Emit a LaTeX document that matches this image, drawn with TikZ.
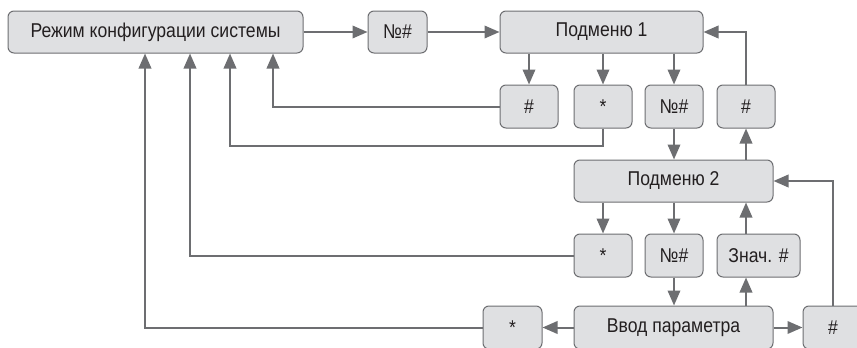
\documentclass[tikz,border=0pt]{standalone}
\usepackage{fontspec}
\setmainfont{Liberation Sans}[FakeStretch=0.88]
\usetikzlibrary{arrows.meta}
\definecolor{boxfill}{HTML}{DFE0E2}
\definecolor{boxline}{HTML}{6D6E71}
\definecolor{conn}{HTML}{6D6E71}
\definecolor{txt}{HTML}{231F20}
\begin{document}
\begin{tikzpicture}[x=1pt,y=-1pt,
  box/.style={draw=boxline, line width=1pt, fill=boxfill, rounded corners=6pt,
    minimum height=42pt, inner sep=0pt, text=txt, font=\fontsize{20}{24}\selectfont},
  arr/.style={draw=conn, line width=2pt, -{Triangle[length=15pt,width=12.5pt]}}]
\useasboundingbox (0,0) rectangle (857,348);
\clip (0,0) rectangle (857,348);
% row 1
\node[box, minimum width=295pt] (main) at (155.5,32) {Режим конфигурации системы};
\node[box, minimum width=59pt] (n1) at (397.5,32) {№\#};
\node[box, minimum width=203pt] (sub1) at (601.5,32) {Подменю 1};
% row 2
\node[box, minimum width=58pt, minimum height=43pt] (r2a) at (529,106.5) {\#};
\node[box, minimum width=58pt, minimum height=43pt] (r2b) at (603,106.5) {*};
\node[box, minimum width=58pt, minimum height=43pt] (r2c) at (674,106.5) {№\#};
\node[box, minimum width=58pt, minimum height=43pt] (r2d) at (746,106.5) {\#};
% Submenu 2
\node[box, minimum width=199pt] (sub2) at (673.5,181) {Подменю 2};
% row 3
\node[box, minimum width=58pt, minimum height=43pt] (r3a) at (603,255.5) {*};
\node[box, minimum width=58pt, minimum height=43pt] (r3b) at (674,255.5) {№\#};
\node[box, minimum width=83pt, minimum height=43pt] (r3c) at (758.5,255.5) {Знач. \#};
% row 4
\node[box, minimum width=199pt, minimum height=43pt] (inp) at (673.5,327.5) {Ввод параметра};
\node[box, minimum width=59pt, minimum height=43pt] (r4a) at (512.5,327.5) {*};
\node[box, minimum width=60pt, minimum height=43pt] (r4b) at (833,327.5) {\#};
% helper x positions on the main box bottom
\coordinate (xa) at (273,0);
\coordinate (xb) at (230,0);
\coordinate (xc) at (190,0);
\coordinate (xd) at (145,0);
% connectors
\draw[arr] (main.east) -- (n1.west);
\draw[arr] (n1.east) -- (sub1.west);
\draw[arr] (sub1.south -| r2a) -- (r2a.north);
\draw[arr] (sub1.south -| r2b) -- (r2b.north);
\draw[arr] (sub1.south -| r2c) -- (r2c.north);
\draw[arr] (r2d.north) |- (sub1.east);
\draw[arr] (r2a.west) -| (main.south -| xa);
\draw[arr] (r2b.south) -- ++(0,17) -| (main.south -| xb);
\draw[arr] (r2c.south) -- (sub2.north -| r2c);
\draw[arr] (sub2.north -| r2d) -- (r2d.south);
\draw[arr] (sub2.south -| r3a) -- (r3a.north);
\draw[arr] (sub2.south -| r3b) -- (r3b.north);
\draw[arr] (r3c.north -| r2d) -- (sub2.south -| r2d);
\draw[arr] (r3a.west) -| (main.south -| xc);
\draw[arr] (r3b.south) -- (inp.north -| r3b);
\draw[arr] (inp.north -| r2d) -- (r3c.south -| r2d);
\draw[arr] (inp.west) -- (r4a.east);
\draw[arr] (inp.east) -- (r4b.west);
\draw[arr] (r4a.west) -| (main.south -| xd);
\draw[arr] (r4b.north) |- (sub2.east);
\end{tikzpicture}
\end{document}
